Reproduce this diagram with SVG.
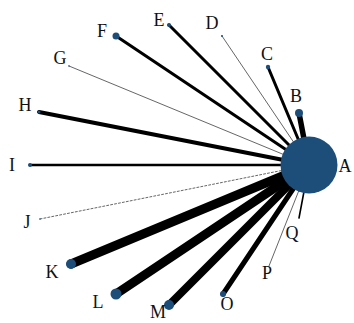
<svg xmlns="http://www.w3.org/2000/svg" width="354" height="323" viewBox="0 0 354 323">
  <style>
    .lbl { font-family: "Liberation Serif", "Times New Roman", serif; font-size: 18px; fill: #111; text-anchor: middle; dominant-baseline: central; }
    .edge { stroke: #000; stroke-linecap: round; fill: none; }
    .thin { stroke: #555; stroke-width: 0.9; }
    .node { fill: #1d4d79; }
  </style>
  <rect width="354" height="323" fill="#fff"/>
  <g id="connectors">
    <line class="edge" x1="299" y1="113" x2="309" y2="165" stroke-width="5.5"/>
    <line class="edge" x1="268" y1="67" x2="309" y2="165" stroke-width="3"/>
    <line class="edge thin" x1="222" y1="36" x2="309" y2="165"/>
    <line class="edge" x1="169" y1="25" x2="309" y2="165" stroke-width="3"/>
    <line class="edge" x1="116" y1="36" x2="309" y2="165" stroke-width="3"/>
    <line class="edge thin" x1="69" y1="66" x2="309" y2="165"/>
    <line class="edge" x1="39" y1="112" x2="309" y2="165" stroke-width="4"/>
    <line class="edge" x1="30" y1="165" x2="309" y2="165" stroke-width="2.6"/>
    <line class="edge thin" x1="40" y1="219" x2="309" y2="165" stroke-dasharray="2,2"/>
    <line class="edge" x1="71" y1="264" x2="309" y2="165" stroke-width="9"/>
    <line class="edge" x1="116" y1="294" x2="309" y2="165" stroke-width="9"/>
    <line class="edge" x1="169" y1="305" x2="309" y2="165" stroke-width="8"/>
    <line class="edge" x1="223" y1="294" x2="309" y2="165" stroke-width="5"/>
    <line class="edge thin" x1="269" y1="266" x2="309" y2="165"/>
    <line class="edge" x1="299" y1="218" x2="309" y2="165" stroke-width="1.6"/>
  </g>
  <g id="node-A"><circle class="node" cx="309" cy="165" r="28.5"/><text class="lbl" x="345" y="166">A</text></g>
  <g id="node-B"><circle class="node" cx="299" cy="113" r="4"/><text class="lbl" x="296" y="96">B</text></g>
  <g id="node-C"><circle class="node" cx="268" cy="67" r="2.2"/><text class="lbl" x="267" y="54">C</text></g>
  <g id="node-D"><circle class="node" cx="222" cy="36" r="1"/><text class="lbl" x="212" y="23">D</text></g>
  <g id="node-E"><circle class="node" cx="169" cy="25" r="2"/><text class="lbl" x="159" y="20">E</text></g>
  <g id="node-F"><circle class="node" cx="116" cy="36" r="3.5"/><text class="lbl" x="102" y="31">F</text></g>
  <g id="node-G"><circle class="node" cx="69" cy="66" r="0.8"/><text class="lbl" x="60" y="58">G</text></g>
  <g id="node-H"><circle class="node" cx="39" cy="112" r="1.5"/><text class="lbl" x="25" y="105">H</text></g>
  <g id="node-I"><circle class="node" cx="30" cy="165" r="2"/><text class="lbl" x="12" y="165">I</text></g>
  <g id="node-J"><circle class="node" cx="40" cy="219" r="0.8"/><text class="lbl" x="27" y="222">J</text></g>
  <g id="node-K"><circle class="node" cx="71" cy="264" r="5"/><text class="lbl" x="52" y="272">K</text></g>
  <g id="node-L"><circle class="node" cx="116" cy="294" r="5.5"/><text class="lbl" x="98" y="302">L</text></g>
  <g id="node-M"><circle class="node" cx="169" cy="305" r="5"/><text class="lbl" x="158" y="312">M</text></g>
  <g id="node-O"><circle class="node" cx="223" cy="294" r="3"/><text class="lbl" x="227" y="304">O</text></g>
  <g id="node-P"><text class="lbl" x="267" y="273">P</text></g>
  <g id="node-Q"><text class="lbl" x="292" y="233">Q</text></g>
</svg>
